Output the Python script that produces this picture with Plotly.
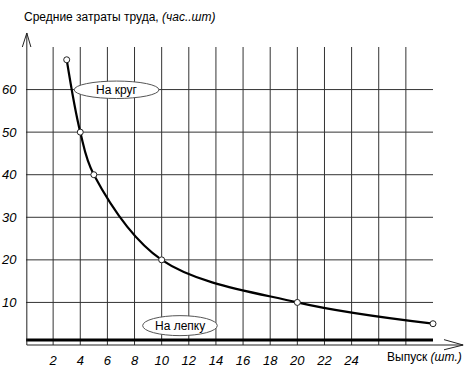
import plotly.graph_objects as go

# Data
output_units = [3, 4, 5, 10, 20, 30]
labour_wheel = [67, 50, 40, 20, 10, 5]
labour_modelling = [1.2, 1.2]
modelling_x = [0, 30]
x_ticks = [2, 4, 6, 8, 10, 12, 14, 16, 18, 20, 22, 24]
x_grid = list(range(2, 30, 2))
y_ticks = [10, 20, 30, 40, 50, 60]

FONT = "Liberation Sans, Arial, sans-serif"

fig = go.Figure()

fig.add_trace(go.Scatter(
    x=modelling_x, y=labour_modelling, mode="lines",
    line=dict(color="black", width=3), hoverinfo="skip", showlegend=False))

fig.add_trace(go.Scatter(
    x=output_units, y=labour_wheel, mode="lines+markers",
    line=dict(color="black", width=2.2, shape="spline", smoothing=1.0),
    marker=dict(size=6, color="white", line=dict(color="#222", width=1)),
    showlegend=False, cliponaxis=False))

shapes = []
for v in x_grid:
    shapes.append(dict(type="line", xref="x", yref="y", x0=v, x1=v, y0=0, y1=70,
                       line=dict(color="#333", width=1), layer="below"))
for v in y_ticks:
    shapes.append(dict(type="line", xref="x", yref="y", x0=0, x1=30, y0=v, y1=v,
                       line=dict(color="#333", width=1), layer="below"))
# y axis with arrow
shapes.append(dict(type="line", xref="paper", yref="paper", x0=0.002, x1=0.002, y0=0, y1=1.047,
                   line=dict(color="#222", width=1)))
shapes.append(dict(type="path", xref="paper", yref="paper",
                   path="M -0.009,1.0 L 0.002,1.047 L 0.012,1.0",
                   line=dict(color="#222", width=1)))
# x axis with arrow
shapes.append(dict(type="line", xref="paper", yref="paper", x0=0.002, x1=1.074, y0=0, y1=0,
                   line=dict(color="#222", width=1)))
shapes.append(dict(type="path", xref="paper", yref="paper",
                   path="M 1.027,0.018 L 1.074,0.0 L 1.027,-0.016",
                   line=dict(color="#222", width=1)))
# ellipses for labels
shapes.append(dict(type="circle", xref="x", yref="y", x0=3.55, x1=9.8, y0=57.9, y1=62.0,
                   fillcolor="white", line=dict(color="#555", width=1), layer="above"))
shapes.append(dict(type="circle", xref="x", yref="y", x0=8.6, x1=14.1, y0=2.2, y1=6.9,
                   fillcolor="white", line=dict(color="#555", width=1), layer="above"))

annotations = [
    dict(x=6.67, y=60, xref="x", yref="y", text="На круг", showarrow=False,
         font=dict(family=FONT, size=12, color="black")),
    dict(x=11.35, y=4.55, xref="x", yref="y", text="На лепку", showarrow=False,
         font=dict(family=FONT, size=12, color="black")),
    dict(x=-0.01, y=1.1, xref="paper", yref="paper", xanchor="left", yanchor="middle",
         text="Средние затраты труда, <i>(час..шт)</i>", showarrow=False,
         font=dict(family=FONT, size=12, color="black")),
    dict(x=1.076, y=-0.04, xref="paper", yref="paper", xanchor="right", yanchor="middle",
         text="Выпуск <i>(шт.)</i>", showarrow=False,
         font=dict(family=FONT, size=12, color="black")),
]

fig.update_layout(
    width=473, height=369,
    margin=dict(l=26, r=40, t=47, b=24, autoexpand=False),
    paper_bgcolor="white", plot_bgcolor="white",
    shapes=shapes, annotations=annotations,
    xaxis=dict(range=[0, 30], tickvals=x_ticks, ticktext=[f"<i>{v}</i>" for v in x_ticks],
               showgrid=False, zeroline=False, showline=False, automargin=False,
               ticks="outside", ticklen=3, tickcolor="rgba(0,0,0,0)",
               tickfont=dict(family=FONT, size=13, color="black")),
    yaxis=dict(range=[0, 70], tickvals=y_ticks, ticktext=[f"<i>{v}</i>" for v in y_ticks],
               showgrid=False, zeroline=False, showline=False, automargin=False,
               ticks="outside", ticklen=6, tickcolor="rgba(0,0,0,0)",
               tickfont=dict(family=FONT, size=13, color="black")),
    showlegend=False,
)

fig.write_html("out.html", config={"displayModeBar": False},
               post_script="document.body.style.margin='0';document.body.style.overflow='hidden';")
